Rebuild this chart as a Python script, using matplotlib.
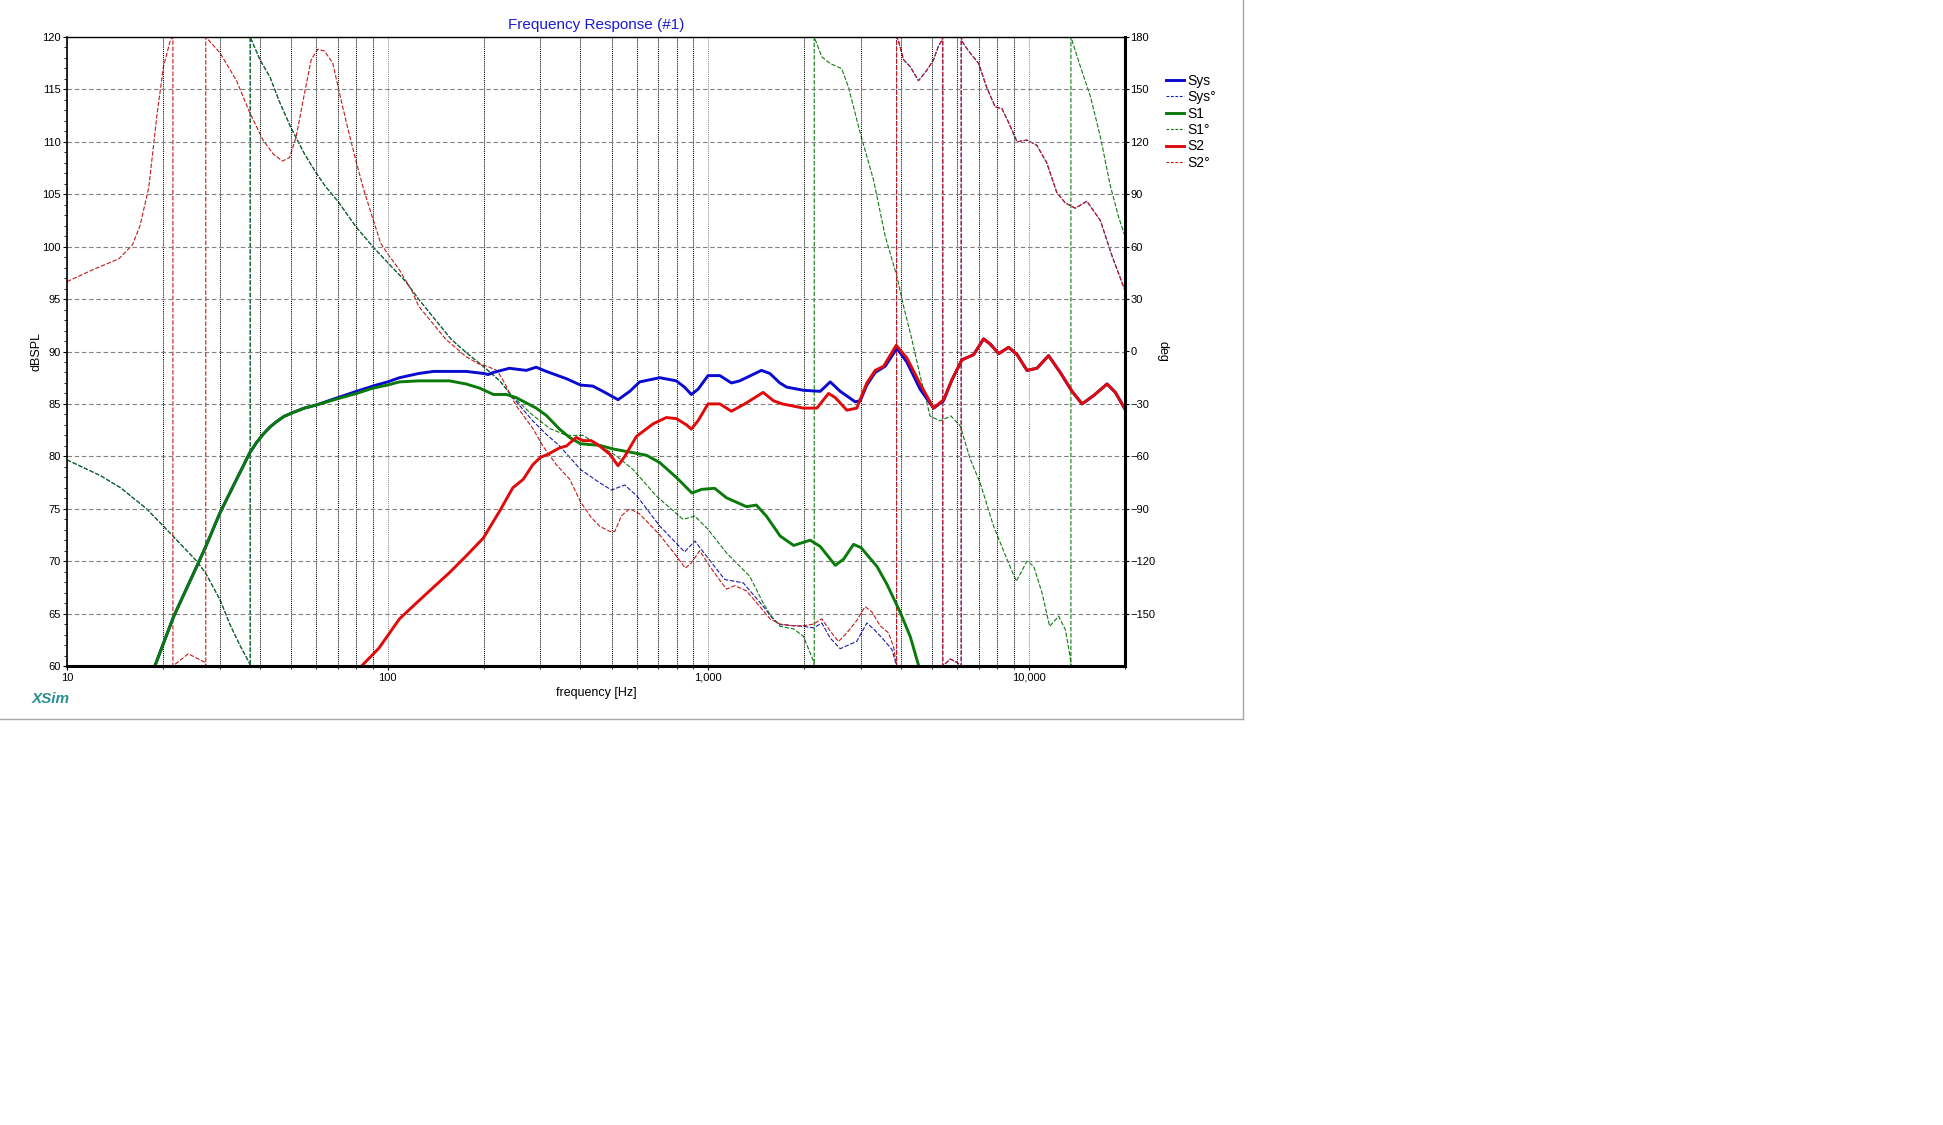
import matplotlib
matplotlib.use("Agg")
from matplotlib import pyplot as plt
from matplotlib.lines import Line2D
from matplotlib.ticker import FixedLocator, LogLocator, NullFormatter, FuncFormatter, MultipleLocator

plt.rcParams['font.family'] = ['Liberation Sans', 'DejaVu Sans']

# ---- magnitude curves (Hz, dBSPL) ----
sys_f = [18.8, 21.5, 25.4, 27.1, 30, 33.8, 35.5, 37.1, 39, 40.9, 43, 45, 47.5, 50, 55, 60, 70, 80,
         90, 100, 109, 125, 139, 176, 200, 206, 214, 240, 271, 291, 313, 362, 400, 437, 470, 524,
         570, 612, 707, 796, 845, 887, 931, 1000, 1089, 1183, 1256, 1468, 1560, 1675, 1761, 1985,
         2240, 2406, 2585, 2880, 2985, 3130, 3324, 3573, 3884, 4170, 4590, 5055, 5430, 5770, 6196,
         6743, 7240, 7600, 8070, 8670, 9210, 9890, 10620, 11550, 12560, 13670, 14690, 15970, 17580,
         18660, 20000]
sys_db = [60, 64.7, 69.5, 71.4, 74.6, 77.8, 79.1, 80.3, 81.3, 82.1, 82.8, 83.3, 83.8, 84.1, 84.6,
          84.9, 85.6, 86.2, 86.7, 87.1, 87.5, 87.9, 88.1, 88.1, 87.9, 87.8, 88.0, 88.4, 88.2, 88.5,
          88.1, 87.4, 86.8, 86.7, 86.2, 85.4, 86.2, 87.1, 87.5, 87.2, 86.6, 85.9, 86.4, 87.7, 87.7,
          87.0, 87.2, 88.2, 87.9, 87.0, 86.6, 86.3, 86.2, 87.1, 86.2, 85.2, 85.3, 86.8, 88.0, 88.6,
          90.3, 89.0, 86.4, 84.6, 85.3, 87.3, 89.2, 89.7, 91.2, 90.7, 89.8, 90.4, 89.7, 88.2, 88.4,
          89.6, 88.0, 86.2, 85.0, 85.8, 86.9, 86.1, 84.5]

s1_f = [18.8, 21.5, 25.4, 27.1, 30, 33.8, 35.5, 37.1, 39, 40.9, 43, 45, 47.5, 50, 55, 60, 70, 80,
        90, 100, 109, 125, 139, 156, 176, 194, 214, 235, 252, 291, 313, 344, 370, 400, 459, 506,
        583, 643, 707, 796, 891, 955, 1049, 1141, 1318, 1415, 1521, 1679, 1850, 2083, 2240, 2495,
        2650, 2844, 3000, 3366, 3615, 3981, 4276, 4535]
s1_db = [60, 64.7, 69.5, 71.4, 74.6, 77.8, 79.1, 80.3, 81.3, 82.1, 82.8, 83.3, 83.8, 84.1, 84.6,
         84.9, 85.5, 86.0, 86.5, 86.8, 87.1, 87.2, 87.2, 87.2, 86.9, 86.5, 85.9, 85.9, 85.6, 84.6,
         83.9, 82.6, 81.8, 81.2, 81.05, 80.7, 80.35, 80.1, 79.4, 78.0, 76.5, 76.85, 76.95, 76.05,
         75.2, 75.35, 74.3, 72.4, 71.5, 72.0, 71.4, 69.6, 70.2, 71.6, 71.3, 69.5, 67.8, 65.1, 62.8,
         60.1]

s2_f = [83, 94, 109, 123, 139, 156, 176, 199, 224, 246, 265, 284, 300, 317, 344, 362, 388, 407,
        432, 454, 494, 524, 550, 598, 674, 741, 796, 857, 887, 931, 1000, 1089, 1183, 1318, 1486,
        1600, 1706, 1985, 2185, 2378, 2495, 2712, 2911, 3130, 3324, 3532, 3866, 4170, 4590, 5055,
        5430, 5770, 6196, 6743, 7240, 7600, 8070, 8670, 9210, 9890, 10620, 11550, 12560, 13670,
        14690, 15970, 17580, 18660, 20000]
s2_db = [60.0, 61.7, 64.5, 66.0, 67.5, 68.9, 70.5, 72.2, 74.8, 77.0, 77.8, 79.2, 79.9, 80.2, 80.8,
         81.0, 81.8, 81.5, 81.5, 81.1, 80.2, 79.1, 80.0, 81.9, 83.1, 83.7, 83.6, 83.0, 82.6, 83.4,
         85.0, 85.0, 84.3, 85.1, 86.1, 85.3, 85.0, 84.6, 84.6, 86.0, 85.6, 84.4, 84.6, 87.0, 88.2,
         88.6, 90.6, 89.4, 86.9, 84.6, 85.4, 87.3, 89.2, 89.7, 91.2, 90.7, 89.8, 90.4, 89.7, 88.2,
         88.4, 89.6, 88.0, 86.2, 85.0, 85.8, 86.9, 86.1, 84.5]

# ---- phase curves (Hz, deg), wraps kept as they appear ----
s1_ph_f = [10, 12.7, 14.7, 17.7, 20, 21.5, 25.4, 27.1, 30, 32.2, 34.6, 37, 37.3, 37.3, 40, 43, 46,
           50, 55.1, 60, 64.3, 70, 80, 90, 100, 114, 125, 158, 176, 198, 224, 246, 284, 321, 362,
           407, 459, 518, 583, 690, 836, 910, 1000, 1141, 1349, 1486, 1563, 1679, 1850, 1985, 2134,
           2145, 2145, 2265, 2406, 2613, 2741, 2985, 3283, 3573, 3884, 4074, 4325, 4590, 4932, 5297,
           5726, 6123, 6580, 7063, 7780, 8570, 9160, 9890, 10380, 11020, 11640, 12420, 13030, 13500,
           13560, 13560, 14520, 15600, 16750, 17990, 19100, 20000]
s1_ph = [-62, -71, -78, -90, -100, -106, -120, -127, -142, -156, -168, -178, -180, 180, 167, 157,
         143, 128, 113, 102, 94, 86, 71, 60, 51, 40, 30, 7, -0.6, -8.2, -16.8, -25.8, -36.5, -44.1,
         -48, -48, -53.7, -59.8, -67.5, -82.7, -96.1, -94.2, -101.8, -115.2, -128.6, -143.9, -150.6,
         -157.3, -158.8, -163, -177.3, -180, 180, 168.6, 164.8, 161.9, 151.5, 125, 98.3, 65.9, 43, 26,
         7, -14, -37, -39.7, -36.9, -42.6, -61.7, -75.1, -100, -119, -131.5, -120, -122.9, -138.2,
         -157.3, -151.5, -159.2, -175.4, -180, 180, 163, 146, 123, 95, 77, 66]

# system phase: follows S1 at low end, S2 at the top end
sys_ph_f = [10, 12.7, 14.7, 17.7, 20, 21.5, 25.4, 27.1, 30, 32.2, 34.6, 37, 37.3, 37.3, 40, 43, 46,
            50, 55.1, 60, 64.3, 70, 80, 90, 100, 114, 125, 158, 176, 198, 224, 246, 284, 313, 344,
            400, 459, 500, 550, 600, 707, 845, 910, 989, 1128, 1288, 1486, 1600, 1679, 1985, 2134,
            2265, 2406, 2585, 2911, 3130, 3303, 3532, 3750, 3866, 3875]
sys_ph = [-62, -71, -78, -90, -100, -106, -120, -127, -142, -156, -168, -178, -180, 180, 167, 157,
          143, 128, 113, 102, 94, 86, 71, 60, 51, 40, 30, 7, -0.6, -8.2, -16.8, -26.4, -39.7, -47.4,
          -54, -67.5, -75.1, -79.3, -76.4, -82.7, -99.9, -114.7, -108.5, -117.1, -130.5, -132.4,
          -145.8, -153.4, -156.3, -157.3, -158.2, -155.4, -164, -170.1, -165.9, -155.4, -159.2, -165,
          -170.6, -179.3, -180]

s2_ph_f = [10, 12.1, 14.5, 16.0, 16.9, 18.0, 19.1, 20, 21.0, 21.4, 21.4, 23.9, 27.0, 27.1, 27.1, 30,
           33.8, 37.1, 40.9, 44, 47, 49.5, 51.9, 55.1, 57.8, 60.6, 63.6, 67.5, 70.8, 75.1, 80, 84.5,
           90, 95.2, 100, 108.7, 119.7, 125, 152, 176, 192, 205, 220, 232, 242, 252, 284, 305, 337,
           370, 400, 432, 459, 494, 512, 537, 570, 612, 707, 796, 849, 887, 942, 1013, 1089, 1142,
           1212, 1318, 1451, 1560, 1679, 1850, 1985, 2134, 2265, 2406, 2553, 2712, 2911, 3090, 3245,
           3444, 3656, 3793, 3866, 3875]
s2_ph = [40, 47, 53, 61, 72, 94, 136, 163, 178, 180, -180, -173, -178, -180, 180, 171, 155, 137, 121,
         113, 109, 111, 123, 148, 167, 173, 172, 165, 148, 128, 108, 92, 76, 62, 56, 47, 34, 26, 7, -3,
         -7, -8.5, -11, -18, -25, -31, -44, -54, -65, -73, -86, -95, -100, -103, -103, -94, -90, -93,
         -105, -117, -124, -121, -114, -123, -131, -136, -134, -137, -146, -153, -156, -157, -157,
         -156, -153, -160, -166, -161, -154, -146, -149, -157, -161, -169, -179, -180]

# above ~3.9 kHz Sys deg and S2 deg lie on top of each other
hf_ph_f = [3875, 3926, 4074, 4276, 4535, 4818, 5055, 5240, 5370, 5400, 5400, 5700, 5980, 6165, 6165,
           6226, 6501, 6982, 7410, 7870, 8260, 8670, 9210, 9890, 10620, 11400, 12250, 13030, 14000,
           15210, 16750, 18200, 19800, 20000]
hf_ph = [180, 178, 167, 163, 155, 161, 167, 175, 178, 180, -180, -176, -178, -180, 180, 177, 172,
         165, 151, 140, 139, 131, 120, 121, 118, 108, 91, 85, 82, 86, 75, 55, 37, 35]

W, H = 1943, 1125
fig = plt.figure(figsize=(W / 100, H / 100), dpi=100)
fig.patch.set_facecolor('white')

ax = fig.add_axes([67 / W, 1 - 666 / H, (1125 - 67) / W, (666 - 37) / H])
ax2 = ax.twinx()
ax.set_zorder(ax2.get_zorder() + 1)
ax.patch.set_visible(False)

blue = '#0a0ad0'
green = '#0a7a0a'
red = '#e00a0a'
ph_ls = (0, (4, 1.6))

# phase on the right axis (drawn underneath)
ax2.plot(sys_ph_f + hf_ph_f, sys_ph + hf_ph, color='#1a1ab0', lw=0.8, ls=ph_ls)
ax2.plot(s1_ph_f, s1_ph, color='#107a10', lw=0.8, ls=ph_ls)
ax2.plot(s2_ph_f + hf_ph_f, s2_ph + hf_ph, color='#c81818', lw=0.8, ls=ph_ls)

# magnitude on the left axis
ax.plot(sys_f, sys_db, color=blue, lw=2.1, solid_joinstyle='round')
ax.plot(s1_f, s1_db, color=green, lw=2.1, solid_joinstyle='round')
ax.plot(s2_f, s2_db, color=red, lw=2.1, solid_joinstyle='round')

ax.set_xscale('log')
ax.set_xlim(10, 20000)
ax.set_ylim(60, 120)
ax2.set_ylim(-180, 180)

ax.xaxis.set_major_locator(FixedLocator([10, 100, 1000, 10000]))
ax.xaxis.set_major_formatter(FuncFormatter(lambda v, p: f'{v:,.0f}'))
ax.xaxis.set_minor_locator(LogLocator(base=10, subs=range(2, 10), numticks=20))
ax.xaxis.set_minor_formatter(NullFormatter())
ax.yaxis.set_major_locator(MultipleLocator(5))
ax.yaxis.set_minor_locator(MultipleLocator(1))
ax2.yaxis.set_major_locator(FixedLocator(list(range(-150, 181, 30))))

ax.tick_params(axis='both', which='major', labelsize=8, length=3, width=0.8, pad=1.5, colors='black')
ax.tick_params(axis='both', which='minor', length=2, width=0.6)
ax.tick_params(axis='x', which='major', pad=2)
ax2.tick_params(axis='y', which='major', labelsize=8, length=3, width=0.8, pad=1)

# grid: grey dashed across, dotted verticals
ax.grid(True, which='major', axis='y', color='#808080', lw=0.8, ls=(0, (4, 2.5)))
ax.grid(True, which='minor', axis='x', color='black', lw=0.75, ls=(0, (1, 1)))
ax.grid(True, which='major', axis='x', color='#909090', lw=0.75, ls=(0, (1, 1)))

for s in ax2.spines.values():
    s.set_visible(False)
ax.spines['left'].set_linewidth(1.2)
ax.spines['right'].set_linewidth(2.2)
ax.spines['bottom'].set_linewidth(2.2)
ax.spines['bottom'].set_linestyle((0, (2, 0.6)))
ax.spines['top'].set_linewidth(1.0)
ax.spines['top'].set_linestyle((0, (2, 1)))

ax.set_title('Frequency Response (#1)', color='#1a1ad8', fontsize=11, pad=6)
ax.set_xlabel('frequency [Hz]', fontsize=9, labelpad=3)
ax.set_ylabel('dBSPL', fontsize=9, labelpad=0)
ax2.set_ylabel('deg', fontsize=9, rotation=270, labelpad=9)

handles = [Line2D([], [], color=blue, lw=2.1),
           Line2D([], [], color='#1a1ab0', lw=0.8, ls=(0, (2.5, 1.5))),
           Line2D([], [], color=green, lw=2.1),
           Line2D([], [], color='#107a10', lw=0.8, ls=(0, (2.5, 1.5))),
           Line2D([], [], color=red, lw=2.1),
           Line2D([], [], color='#c81818', lw=0.8, ls=(0, (2.5, 1.5)))]
labels = ['Sys', 'Sys°', 'S1', 'S1°', 'S2', 'S2°']
fig.legend(handles, labels, loc='upper left', bbox_to_anchor=(1166 / W, 1 - 74 / H),
           frameon=False, fontsize=10, handlelength=1.3, handletextpad=0.25,
           labelspacing=0.17, borderpad=0, borderaxespad=0)

fig.text(32 / W, 1 - 699 / H, 'XSim', color='#2a8f8f', fontsize=11, fontweight='bold',
         fontstyle='italic', va='center', ha='left')

# grey frame of the exported panel
fig.add_artist(Line2D([0, 1243 / W], [1 - 719 / H, 1 - 719 / H], transform=fig.transFigure,
                      color='#a8a8a8', lw=1))
fig.add_artist(Line2D([1243 / W, 1243 / W], [1 - 719 / H, 1], transform=fig.transFigure,
                      color='#a8a8a8', lw=1))

fig.savefig('out.png', dpi=100, facecolor='white')
